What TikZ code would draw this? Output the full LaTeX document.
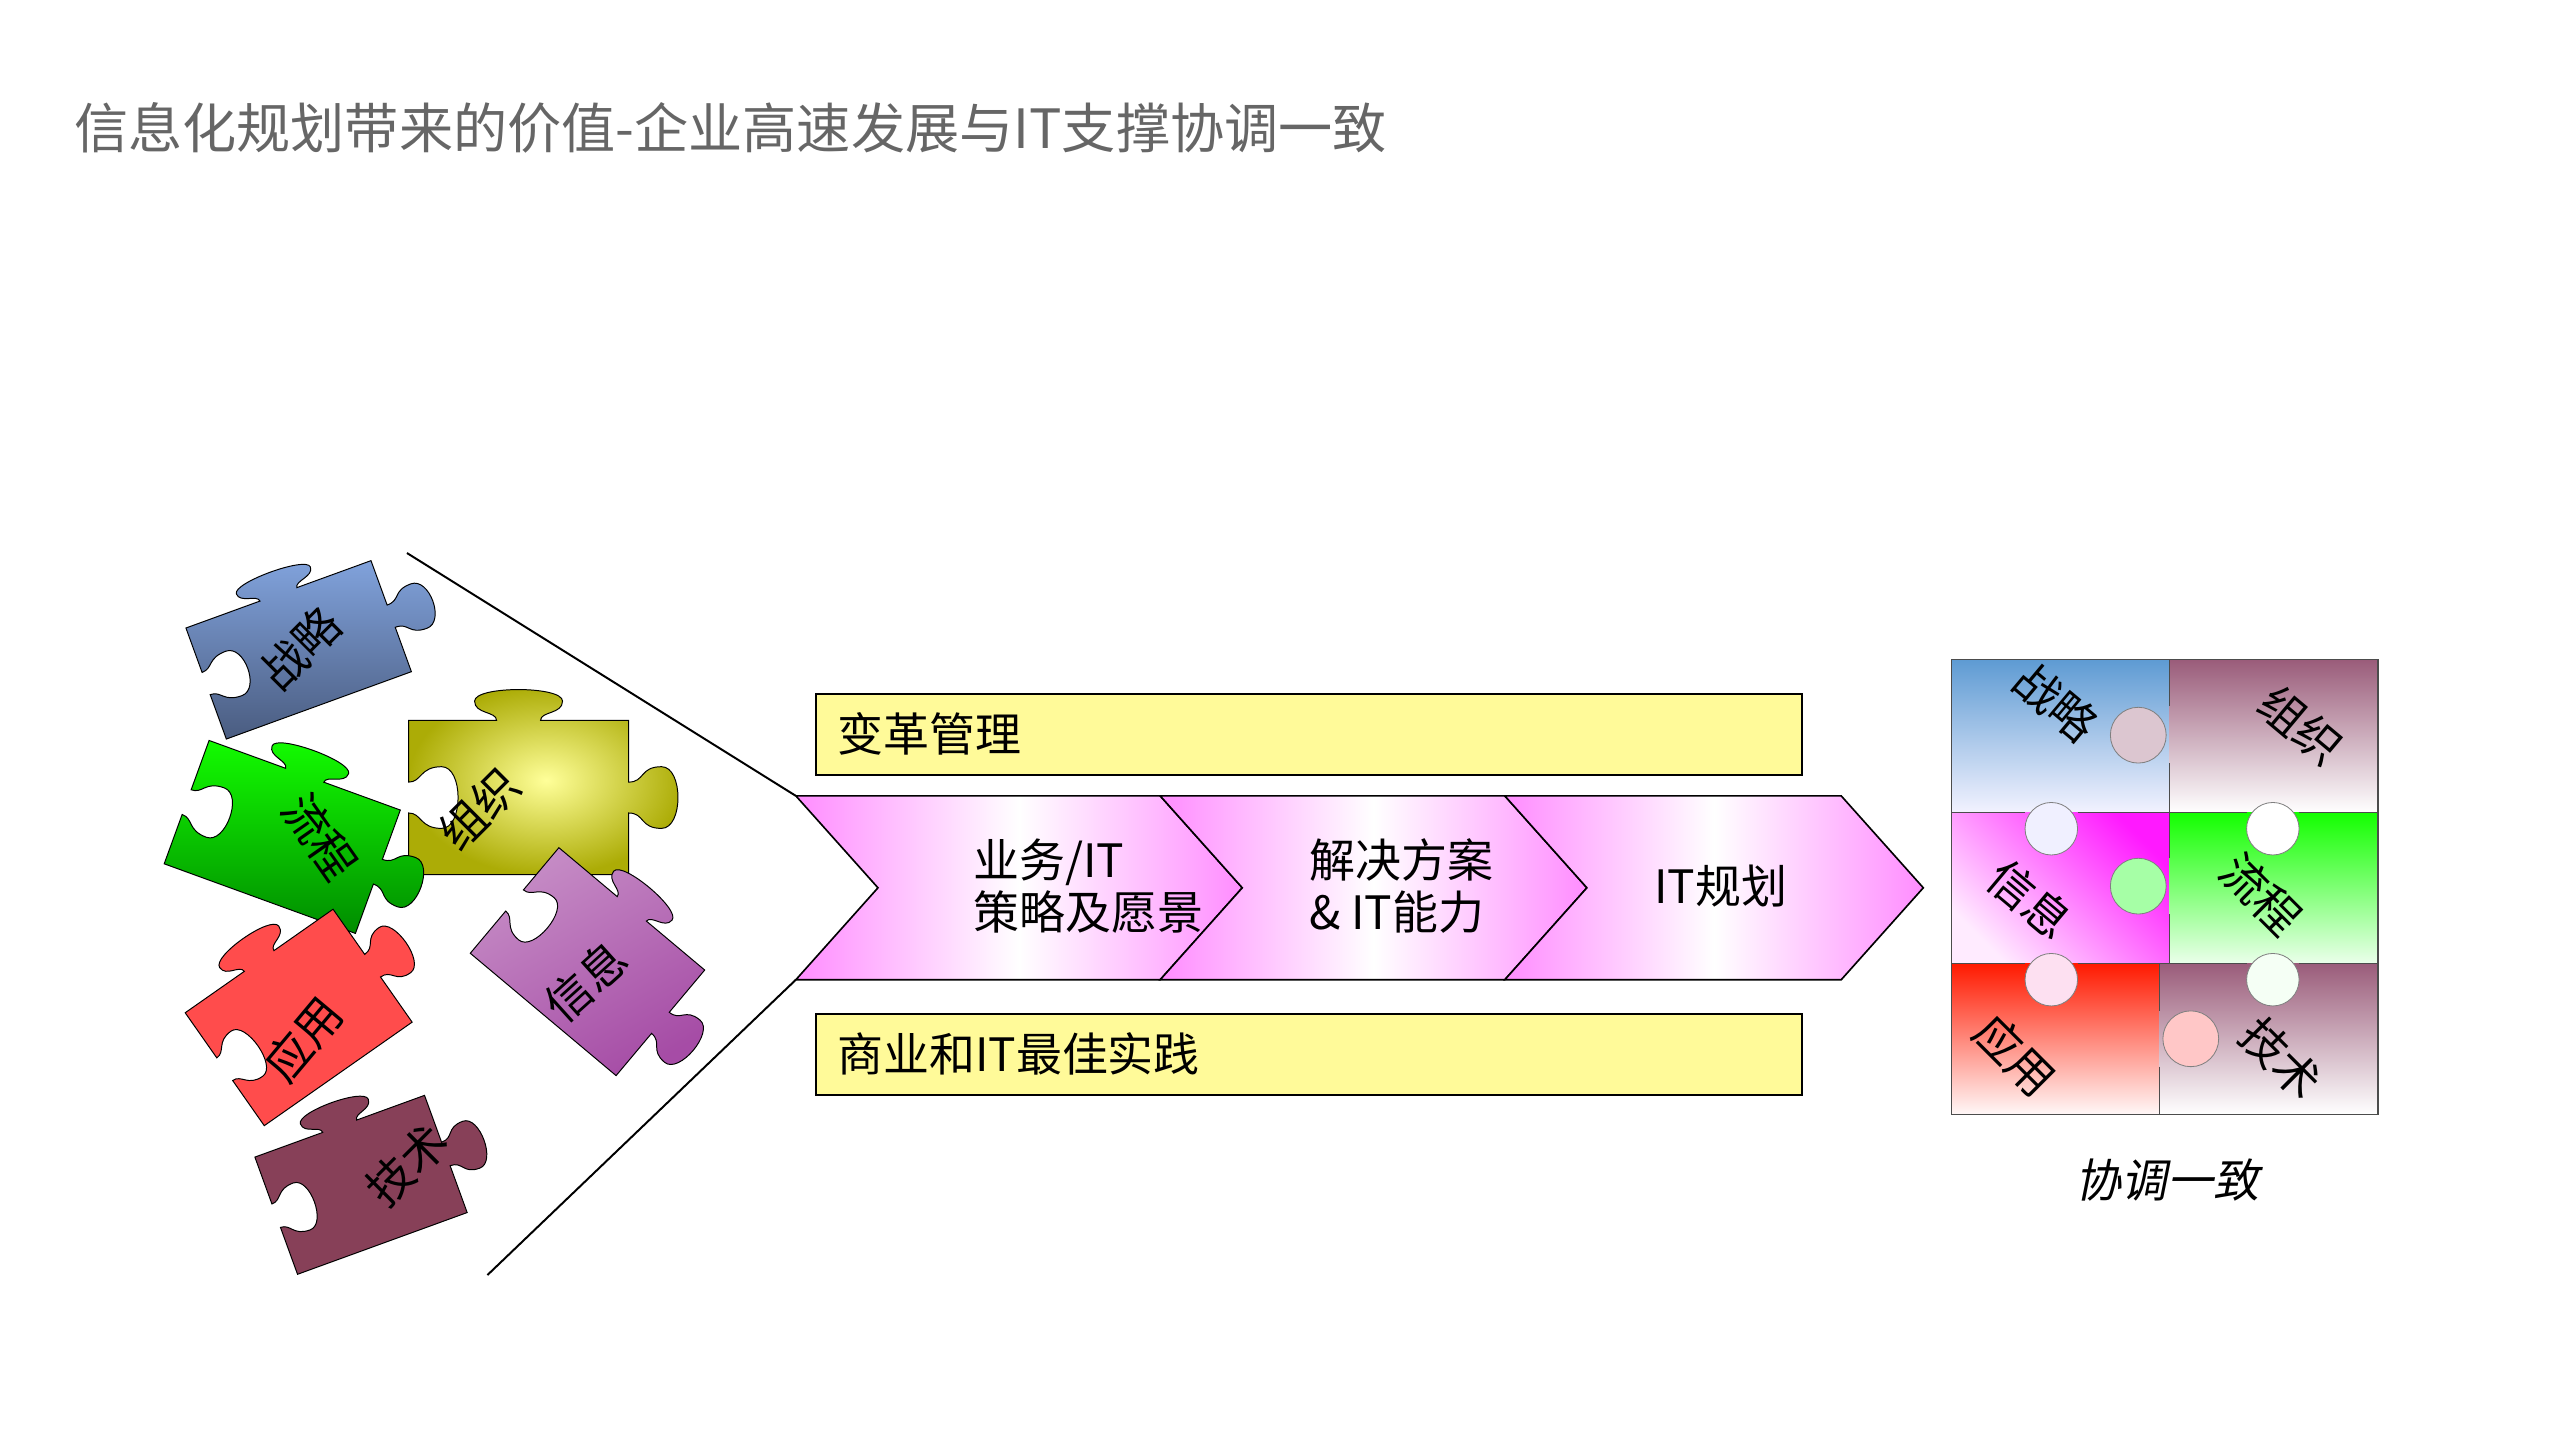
\documentclass[tikz,border=0pt]{standalone}
\usepackage{fontspec}
\setmainfont{Noto Sans CJK SC}
\newfontfamily\cjk{Noto Sans CJK SC}
\usetikzlibrary{shapes.geometric}
\tikzset{
  ybox/.style={draw=black,line width=1.2pt,fill=yellow!40!white},
  chev/.style={draw=black,line width=1pt,shading angle=40,left color=magenta!45!white,right color=magenta!45!white,middle color=white},
  lbl/.style={font=\fontsize{28}{32}\selectfont,inner sep=0},
  plbl/.style={font=\fontsize{28}{30}\selectfont,inner sep=0},
  cell/.style={draw=black!70,line width=0.8pt},
  knob/.style={draw=black!50,line width=0.5pt},
}
\newcommand{\puzzlepath}{(-1,-1) -- (1,-1) -- (1,-0.2) .. controls (1.15,-0.2) and (1.1,-0.4) .. (1.3,-0.4) .. controls (1.5,-0.4) and (1.5,0.4) .. (1.3,0.4) .. controls (1.1,0.4) and (1.15,0.2) .. (1,0.2) -- (1,1) -- (0.2,1) .. controls (0.2,1.12) and (0.4,1.08) .. (0.4,1.25) .. controls (0.4,1.45) and (-0.4,1.45) .. (-0.4,1.25) .. controls (-0.4,1.08) and (-0.2,1.12) .. (-0.2,1) -- (-1,1) -- (-1,0.2) .. controls (-0.88,0.2) and (-0.9,0.4) .. (-0.7,0.4) .. controls (-0.5,0.4) and (-0.5,-0.4) .. (-0.7,-0.4) .. controls (-0.9,-0.4) and (-0.88,-0.2) .. (-1,-0.2) -- cycle}
\begin{document}
\begin{tikzpicture}[x=1pt,y=-1pt]
\useasboundingbox (0,0) rectangle (1560,877.5);
\node[anchor=west,text=black!60,font=\fontsize{33}{36}\selectfont,inner sep=0] (title) at (45,78) {信息化规划带来的价值-企业高速发展与IT支撑协调一致};
\coordinate (ct) at (248,337);
\coordinate (cb) at (297,777);
\coordinate (n1) at (485,485);
\coordinate (n3) at (485,597);
\draw[line width=1.2pt] (ct) -- (n1);
\draw[line width=1.2pt] (cb) -- (n3);
\draw[chev] (485,485) -- (707,485) -- (757,541) -- (707,597) -- (485,597) -- (535,541) -- cycle;
\draw[chev] (707,485) -- (917,485) -- (967,541) -- (917,597) -- (707,597) -- (757,541) -- cycle;
\draw[chev] (917,485) -- (1122,485) -- (1172,541) -- (1122,597) -- (917,597) -- (967,541) -- cycle;
\node[lbl,align=left,anchor=west] (s1) at (593,540) {业务/IT\\策略及愿景};
\node[lbl,align=left,anchor=west] (s2) at (798,540) {解决方案\\\& IT能力};
\node[lbl,anchor=west] (s3) at (1008,540) {IT规划};
\draw[ybox] (497,423) rectangle (1098,472);
\node[lbl,anchor=west] (b1) at (510,447) {变革管理};
\draw[ybox] (497,618) rectangle (1098,667);
\node[lbl,anchor=west] (b2) at (510,642) {商业和IT最佳实践};
% left puzzle pieces
\definecolor{pblueT}{HTML}{82A4DE}
\definecolor{pblueB}{HTML}{4A5C80}
\begin{scope}[shift={(182,396)},rotate=20,xscale=60,yscale=-36]
\draw[line width=0.6pt,top color=pblueT,bottom color=pblueB] \puzzlepath;
\end{scope}
\begin{scope}[shift={(316,486)},rotate=0,xscale=67,yscale=-47]
\draw[line width=0.6pt,inner color=yellow!40!white,outer color=olive!65!white] \puzzlepath;
\end{scope}
\begin{scope}[shift={(172,510)},rotate=-20,xscale=62,yscale=-40]
\draw[line width=0.6pt,top color=green!90!lime,bottom color=green!55!black] \puzzlepath;
\end{scope}
\begin{scope}[shift={(358,586)},rotate=-40,xscale=58,yscale=-42]
\draw[line width=0.6pt,left color=violet!45!white,right color=violet!70!white,shading angle=30] \puzzlepath;
\end{scope}
\begin{scope}[shift={(182,620)},rotate=35,xscale=55,yscale=-42]
\draw[line width=0.6pt,fill=red!70!white] \puzzlepath;
\end{scope}
\begin{scope}[shift={(220,722)},rotate=20,xscale=55,yscale=-38]
\draw[line width=0.6pt,fill=purple!50!black!75!white] \puzzlepath;
\end{scope}
\node[plbl,rotate=45] (l1) at (183,395) {战略};
\node[plbl,rotate=45] (l3) at (292,493) {组织};
\node[plbl,rotate=-55] (l2) at (195,510) {流程};
\node[plbl,rotate=42] (l4) at (357,598) {信息};
\node[plbl,rotate=50] (l5) at (185,633) {应用};
\node[plbl,rotate=45] (l6) at (248,710) {技术};
% right grid
\definecolor{gblue}{HTML}{5E9BD3}
\definecolor{gplum}{HTML}{9A5C7A}
\shade[top color=gblue,bottom color=blue!5!white] (1189,402) rectangle (1322,495);
\shade[top color=gplum,bottom color=white] (1322,402) rectangle (1449,495);
\shade[left color=magenta!90!white,right color=magenta!8!white,shading angle=-45] (1189,495) rectangle (1322,587);
\shade[top color=green!90!lime,bottom color=green!8!white] (1322,495) rectangle (1449,587);
\shade[top color=red!80!orange,bottom color=red!3!white] (1189,587) rectangle (1316,679);
\shade[top color=gplum,bottom color=white] (1316,587) rectangle (1449,679);
\filldraw[knob,fill=gplum!35!white] (1303,448) circle (17);
\filldraw[knob,fill=blue!6!white] (1250,505) circle (16);
\filldraw[knob,fill=green!35!white] (1303,540) circle (17);
\filldraw[knob,fill=white] (1385,505) circle (16);
\filldraw[knob,fill=magenta!12!white] (1250,597) circle (16);
\filldraw[knob,fill=green!4!white] (1385,597) circle (16);
\filldraw[knob,fill=red!22!white] (1335,633) circle (17);
\draw[cell] (1189,402) rectangle (1449,679);
\draw[cell] (1322,402) -- (1322,430);
\draw[cell] (1322,465) -- (1322,523);
\draw[cell] (1322,557) -- (1322,587);
\draw[cell] (1316,587) -- (1316,616);
\draw[cell] (1316,650) -- (1316,679);
\draw[cell] (1189,495) -- (1234,495) (1266,495) -- (1369,495) (1401,495) -- (1449,495);
\draw[cell] (1189,587) -- (1234,587) (1266,587) -- (1369,587) (1401,587) -- (1449,587);
\node[plbl,rotate=-40] (r1) at (1253,428) {战略};
\node[plbl,rotate=-40] (r2) at (1402,442) {组织};
\node[plbl,rotate=-40] (r3) at (1237,548) {信息};
\node[plbl,rotate=-45] (r4) at (1378,545) {流程};
\node[plbl,rotate=-45] (r5) at (1228,643) {应用};
\node[plbl,rotate=-45] (r6) at (1390,645) {技术};
\node[lbl,xslant=0.2] (cap) at (1323,719) {协调一致};
\end{tikzpicture}
\end{document}
